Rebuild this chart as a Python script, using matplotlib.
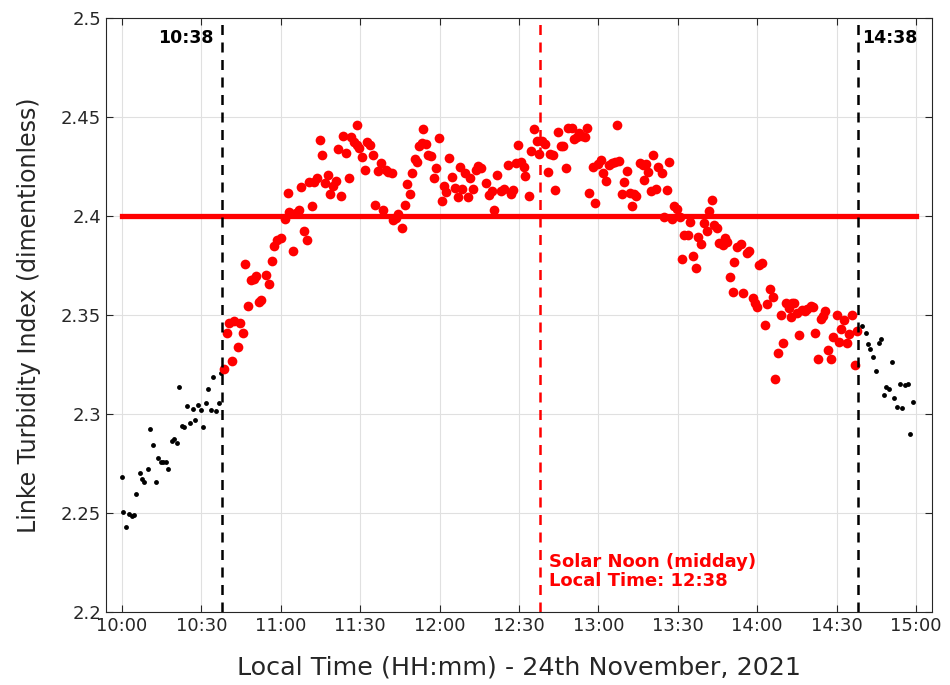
import matplotlib
matplotlib.use('Agg')
from matplotlib import pyplot as plt

# minutes after 10:00
black_l_t = [0, 0.6, 1.5, 2.6, 3.7, 4.5, 5.5, 6.7, 7.7, 8.4, 9.7, 10.6, 11.6, 12.7, 13.6, 14.6, 15.6,
             16.6, 17.6, 18.8, 19.6, 20.7, 21.5, 22.6, 23.4, 24.7, 25.7, 26.7, 27.7, 28.7, 29.7, 30.7,
             31.7, 32.6, 33.6, 34.6, 35.6, 36.6, 37.4]
black_l_v = [2.268, 2.2505, 2.243, 2.2495, 2.2485, 2.249, 2.2596, 2.2704, 2.267, 2.2657, 2.272, 2.2923,
             2.2843, 2.2655, 2.278, 2.276, 2.2758, 2.2756, 2.2724, 2.2864, 2.2874, 2.2855, 2.3135, 2.294,
             2.2933, 2.3039, 2.2956, 2.3027, 2.297, 2.3044, 2.302, 2.2933, 2.3054, 2.3125, 2.302, 2.3185,
             2.3015, 2.3054, 2.3205]

black_r_t = [278.5, 279.7, 280.9, 281.8, 282.7, 283.8, 284.8, 285.9, 286.9, 287.7, 288.7, 289.8, 290.8,
             291.8, 292.7, 293.8, 294.8, 295.9, 296.9, 297.7, 298.8]
black_r_v = [2.3421, 2.3444, 2.3408, 2.3354, 2.3328, 2.3289, 2.3219, 2.336, 2.338, 2.3096, 2.3138, 2.3125,
             2.3264, 2.3079, 2.3037, 2.3152, 2.3029, 2.3146, 2.315, 2.2899, 2.3062]

red_t = [38.5, 39.7, 40.4, 41.7, 42.4, 43.7, 44.6, 45.6, 46.6, 47.6, 48.6, 49.8, 50.6, 51.8, 52.5, 54.4,
         55.6, 56.6, 57.6, 58.7, 60.1, 61.7, 62.7, 63.2, 64.7, 65.7, 66.9, 67.6, 68.8, 69.8, 70.5, 71.8,
         72.6, 73.6, 74.8, 75.7, 76.7, 77.7, 78.7, 79.8, 80.7, 81.6, 82.7, 83.6, 84.7, 85.6, 86.6, 87.5,
         88.7, 88.8, 89.7, 90.7, 91.7, 92.7, 93.7, 94.7, 95.7, 96.6, 97.7, 98.7, 99.7, 100.7, 101.9, 102.5,
         103.5, 104.4, 105.7, 106.8, 107.8, 108.8, 109.7, 110.7, 111.6, 112.3, 113.4, 113.7, 114.7, 115.7,
         116.9, 117.8, 118.6, 119.6, 120.8, 121.5, 122.4, 123.7, 124.8, 125.7, 126.8, 127.7, 128.6, 129.6,
         130.6, 131.6, 132.6, 133.6, 134.6, 135.5, 137.5, 138.6, 139.7, 140.7, 141.8, 143.1, 144.4, 145.7,
         146.9, 147.8, 148.8, 149.6, 150.9, 151.8, 152.2, 153.8, 154.6, 155.6, 156.7, 157.7, 158.7, 159.7,
         160.8, 161.7, 162.7, 163.6, 164.7, 165.8, 166.7, 167.7, 168.6, 169.9, 170.8, 171.8, 172.8, 173.8,
         174.8, 175.8, 176.5, 177.8, 178.8, 179.8, 180.8, 181.8, 182.8, 184.0, 185.1, 186.2, 186.9, 187.9,
         188.8, 189.8, 190.8, 191.9, 192.8, 193.3, 194.2, 195.6, 196.7, 197.2, 197.8, 198.7, 199.7, 200.7,
         201.7, 202.7, 203.9, 204.9, 205.8, 206.8, 207.8, 208.6, 209.8, 210.8, 211.7, 212.3, 213.7, 214.7,
         215.7, 216.8, 217.7, 218.7, 219.9, 220.9, 221.8, 222.8, 223.8, 224.7, 225.7, 226.9, 227.8, 228.7,
         229.7, 230.7, 231.4, 232.5, 233.7, 234.7, 236.0, 236.9, 238.3, 239.1, 240.0, 240.8, 241.8, 242.9,
         243.8, 244.8, 245.8, 246.9, 247.9, 248.8, 249.8, 250.8, 251.9, 252.6, 253.0, 253.9, 254.9, 255.8,
         256.8, 258.0, 258.9, 260.2, 260.9, 261.8, 262.9, 263.9, 264.9, 265.7, 266.8, 267.7, 268.7, 270.0,
         270.9, 271.6, 272.8, 273.8, 274.8, 275.8, 276.8, 277.6]
red_v = [2.3226, 2.3407, 2.3461, 2.3269, 2.3468, 2.3338, 2.3458, 2.3409, 2.3756, 2.3547, 2.3678, 2.368,
         2.3697, 2.3564, 2.3577, 2.370, 2.3657, 2.3771, 2.3848, 2.3877, 2.389, 2.3986, 2.4118, 2.4022,
         2.3823, 2.4017, 2.403, 2.4145, 2.3923, 2.3879, 2.4173, 2.405, 2.417, 2.419, 2.4384, 2.4308, 2.4165,
         2.4207, 2.411, 2.4152, 2.4177, 2.4337, 2.4103, 2.4404, 2.432, 2.419, 2.440, 2.4375, 2.4359, 2.446,
         2.4342, 2.430, 2.4232, 2.4375, 2.4359, 2.4308, 2.4056, 2.4229, 2.4266, 2.403, 2.4232, 2.4224,
         2.4219, 2.398, 2.3988, 2.401, 2.3941, 2.4056, 2.4162, 2.4111, 2.4219, 2.4288, 2.4271, 2.4355,
         2.4367, 2.444, 2.4364, 2.4308, 2.4303, 2.4193, 2.4241, 2.4393, 2.4076, 2.4152, 2.4123, 2.4291,
         2.4198, 2.414, 2.4097, 2.4246, 2.4135, 2.4216, 2.4094, 2.419, 2.4135, 2.4232, 2.4253, 2.4241,
         2.4165, 2.4106, 2.4128, 2.403, 2.4207, 2.4128, 2.4135, 2.4258, 2.4111, 2.4131, 2.4266, 2.4359,
         2.4271, 2.4246, 2.4202, 2.4101, 2.433, 2.4438, 2.4379, 2.4312, 2.4381, 2.4362, 2.4224, 2.4312,
         2.4308, 2.4131, 2.4423, 2.4353, 2.4353, 2.4241, 2.4447, 2.4443, 2.4389, 2.440, 2.4418, 2.4404,
         2.440, 2.4443, 2.4115, 2.4246, 2.4064, 2.4263, 2.4283, 2.4219, 2.4178, 2.4258, 2.4266, 2.4274,
         2.446, 2.4279, 2.4111, 2.4173, 2.4229, 2.4118, 2.4052, 2.4111, 2.4101, 2.4266, 2.4258, 2.4182,
         2.4263, 2.4224, 2.4126, 2.4307, 2.4135, 2.4246, 2.4216, 2.3993, 2.4131, 2.4271, 2.3983, 2.4052,
         2.4035, 2.3993, 2.3783, 2.3904, 2.3904, 2.3971, 2.3799, 2.3736, 2.3895, 2.3859, 2.3963, 2.3926,
         2.4027, 2.4081, 2.3955, 2.3938, 2.3865, 2.3854, 2.3887, 2.3867, 2.369, 2.3618, 2.3769, 2.3842,
         2.3859, 2.3613, 2.3812, 2.3823, 2.3584, 2.3559, 2.3542, 2.3753, 2.3761, 2.345, 2.3556, 2.363,
         2.3589, 2.3175, 2.331, 2.350, 2.3357, 2.3562, 2.3534, 2.3488, 2.3559, 2.3562, 2.3508, 2.3399,
         2.3525, 2.3522, 2.3529, 2.3545, 2.3539, 2.3411, 2.3276, 2.3478, 2.3495, 2.3522, 2.3323, 2.3276,
         2.3387, 2.350, 2.3365, 2.3428, 2.3475, 2.336, 2.3404, 2.350, 2.3247, 2.3421]

mean_level = 2.40
start_t, noon_t, end_t = 38, 158, 278
xticks = [0, 30, 60, 90, 120, 150, 180, 210, 240, 270, 300]
xticklabels = ['10:00', '10:30', '11:00', '11:30', '12:00', '12:30', '13:00', '13:30', '14:00', '14:30', '15:00']
yticks = [2.2, 2.25, 2.3, 2.35, 2.4, 2.45, 2.5]
yticklabels = ['2.2', '2.25', '2.3', '2.35', '2.4', '2.45', '2.5']

fig = plt.figure(figsize=(9.5, 6.85), dpi=100)
ax = fig.add_axes([0.1116, 0.1066, 0.8694, 0.8671])

ax.plot(black_l_t, black_l_v, 'o', color='black', markersize=3.5, markeredgewidth=0)
ax.plot(black_r_t, black_r_v, 'o', color='black', markersize=3.5, markeredgewidth=0)
ax.plot(red_t, red_v, 'o', color='red', markersize=7, markeredgewidth=0)
ax.plot([0, 300], [mean_level, mean_level], '-', color='red', linewidth=3.8)

ax.axvline(start_t, color='black', linestyle='--', linewidth=1.8, dashes=(4, 3))
ax.axvline(end_t, color='black', linestyle='--', linewidth=1.8, dashes=(4, 3))
ax.axvline(noon_t, color='red', linestyle='--', linewidth=1.8, dashes=(4, 3))

ax.text(start_t - 3.5, 2.49, '10:38', ha='right', va='center', fontsize=12.5, fontweight='bold')
ax.text(end_t + 1.5, 2.49, '14:38', ha='left', va='center', fontsize=12.5, fontweight='bold')
ax.text(noon_t + 3.5, 2.2112, 'Solar Noon (midday)\nLocal Time: 12:38', ha='left', va='bottom',
        fontsize=13, fontweight='bold', color='red', linespacing=1.05)

ax.set_xlim(-6, 306)
ax.set_ylim(2.2, 2.5)
ax.set_xticks(xticks)
ax.set_xticklabels(xticklabels)
ax.set_yticks(yticks)
ax.set_yticklabels(yticklabels)
ax.grid(True, color='#e0e0e0', linewidth=0.8)
ax.set_axisbelow(True)
ax.tick_params(direction='in', top=True, right=True, labelsize=13, colors='#262626', length=5)
for s in ax.spines.values():
    s.set_color('#262626')
ax.set_xlabel('Local Time (HH:mm) - 24th November, 2021', fontsize=18.3, color='#262626', labelpad=15)
ax.set_ylabel('Linke Turbidity Index (dimentionless)', fontsize=17, color='#262626', labelpad=14)

fig.savefig('out.png', dpi=100)
